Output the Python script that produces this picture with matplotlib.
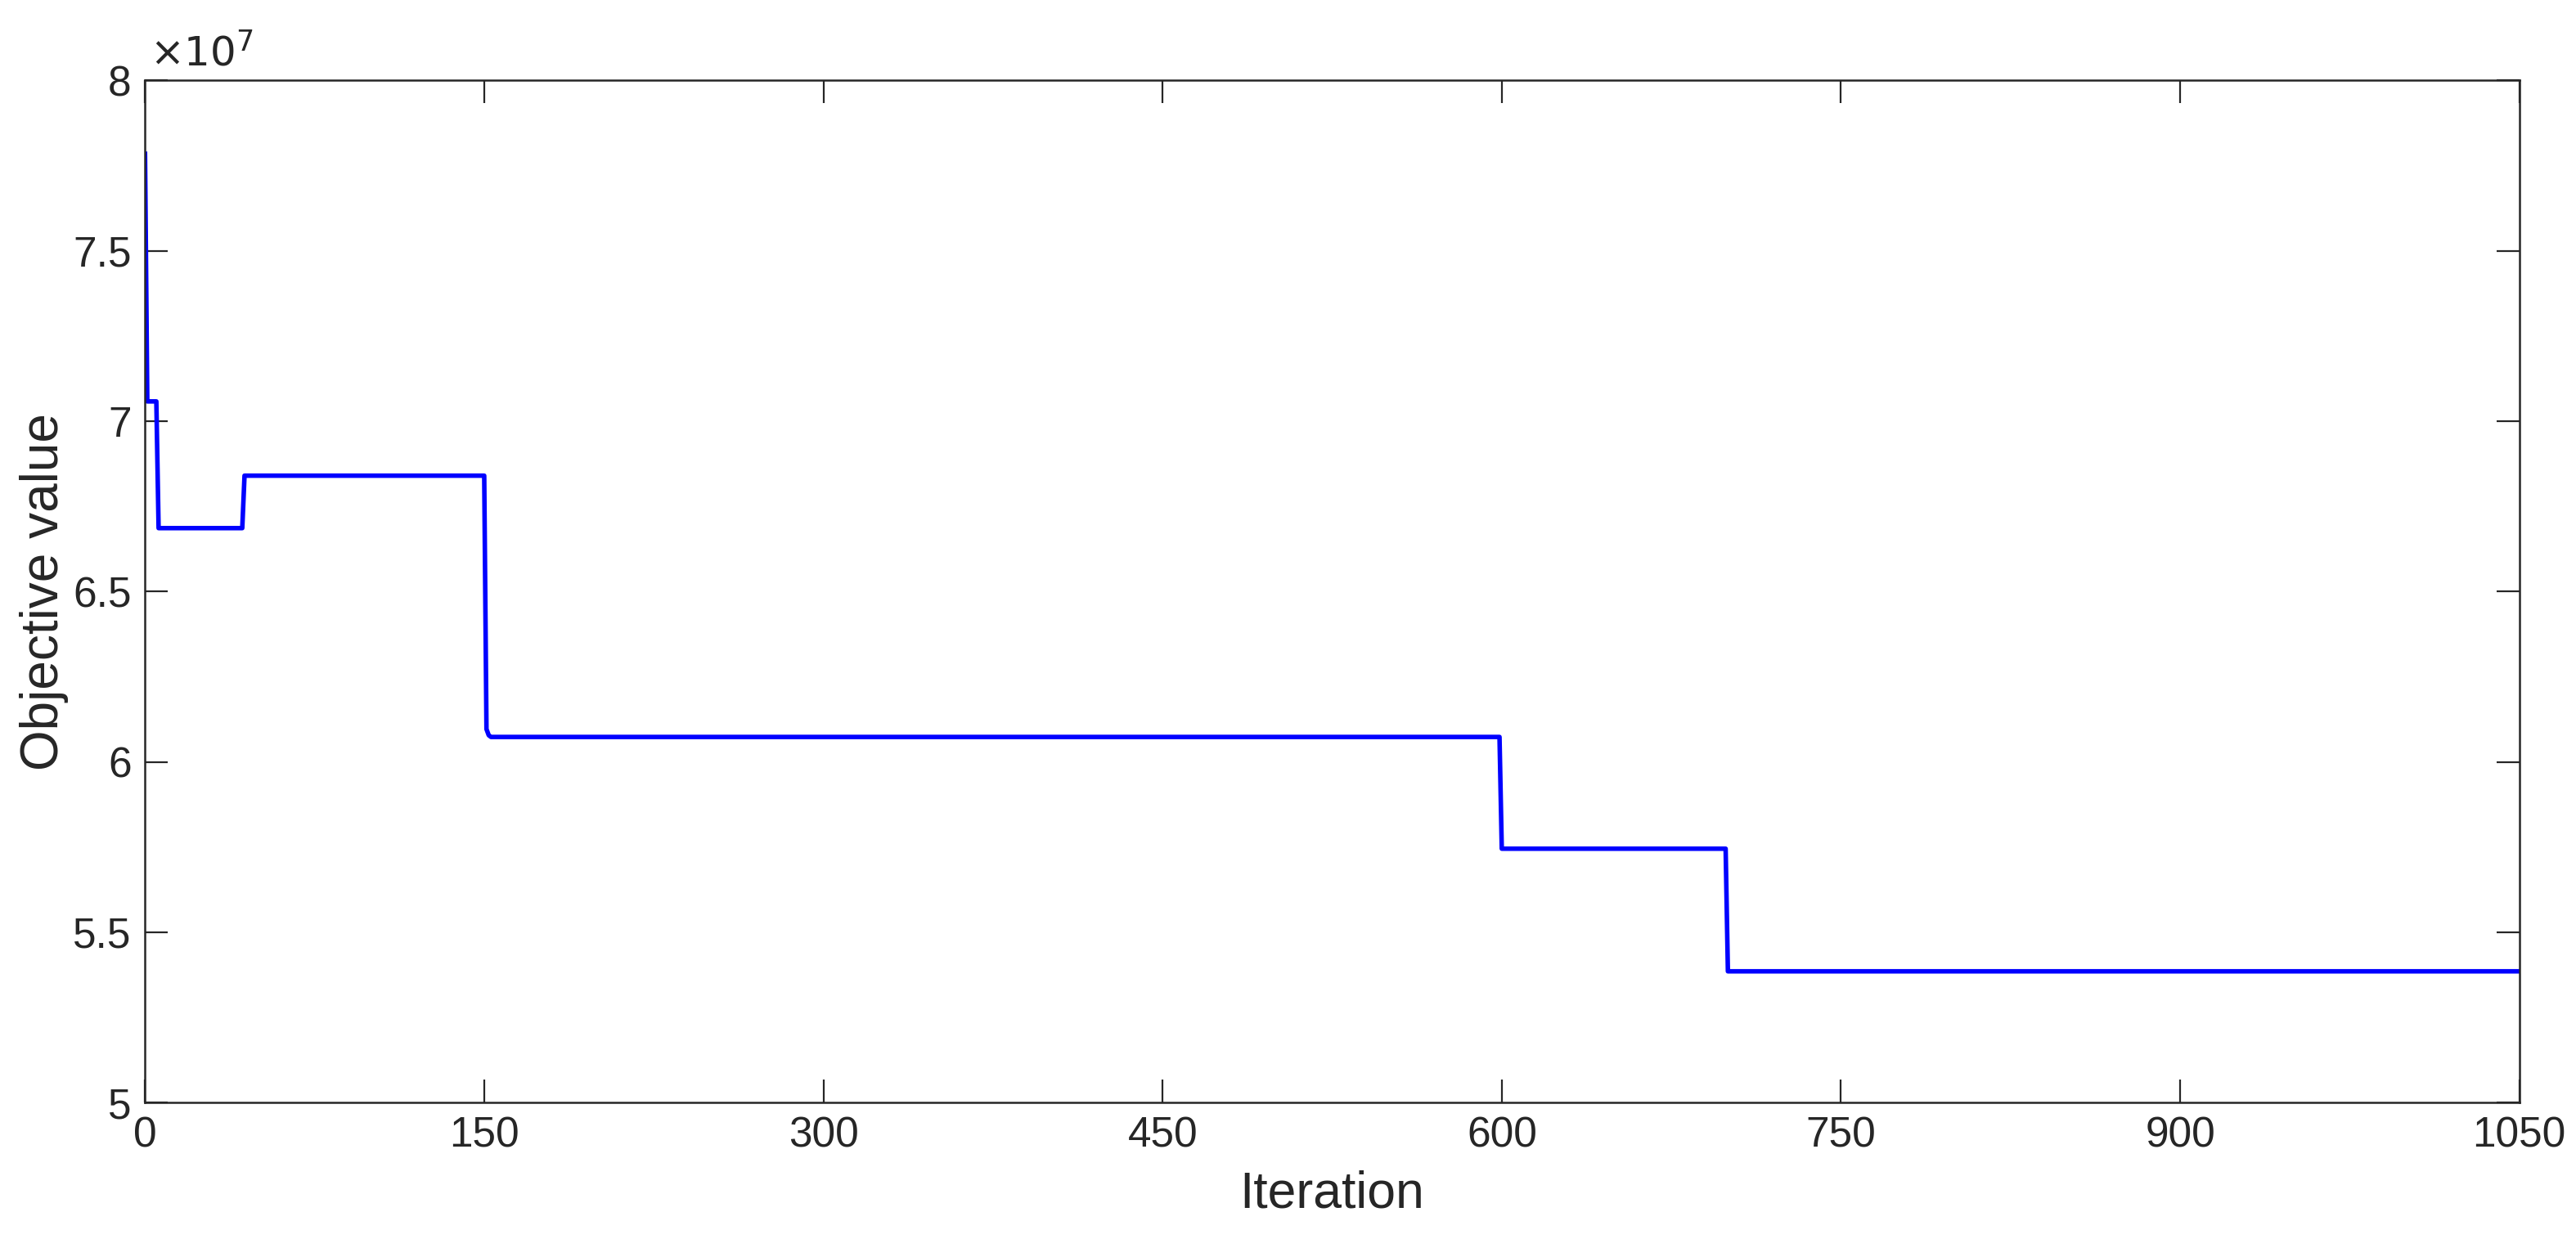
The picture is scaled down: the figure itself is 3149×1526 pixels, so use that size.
import matplotlib
matplotlib.use("Agg")
import matplotlib.pyplot as plt
from matplotlib.ticker import FuncFormatter

# Data (objective value in units of 1e7)
iterations = [0, 1, 5, 6, 43, 44, 150, 151, 152, 153, 599, 600, 699, 700, 1050]
objective_1e7 = [7.785, 7.058, 7.058, 6.686, 6.686, 6.840, 6.840, 6.096, 6.078,
                 6.073, 6.073, 5.745, 5.745, 5.385, 5.385]
x_ticks = [0, 150, 300, 450, 600, 750, 900, 1050]
y_ticks = [5, 5.5, 6, 6.5, 7, 7.5, 8]

plt.rcParams['font.family'] = ['Liberation Sans', 'DejaVu Sans']
txt = '#262626'

fig = plt.figure(figsize=(3149 / 200, 1526 / 200), dpi=200)
ax = fig.add_axes([0.0563, 0.1166, 0.9217, 0.8189])

ax.plot(iterations, objective_1e7, color=(0, 0, 1), lw=2.0)

ax.set_xlim(0, 1050)
ax.set_ylim(5, 8)
ax.set_xticks(x_ticks)
ax.set_yticks(y_ticks)
ax.yaxis.set_major_formatter(FuncFormatter(lambda v, p: f"{v:g}"))
ax.tick_params(direction='in', length=10, width=0.8, top=True, right=True,
               labelsize=18.5, colors=txt, pad=6)
for s in ax.spines.values():
    s.set_linewidth(0.9)
    s.set_color(txt)

ax.set_xlabel('Iteration', fontsize=22.5, color=txt, labelpad=6)
ax.set_ylabel('Objective value', fontsize=23, color=txt, labelpad=2)
ax.text(0.002, 1.006, r'$\times10^{7}$', transform=ax.transAxes, fontsize=18,
        color=txt, ha='left', va='bottom')

fig.savefig('out.png', dpi=200, facecolor='white')
